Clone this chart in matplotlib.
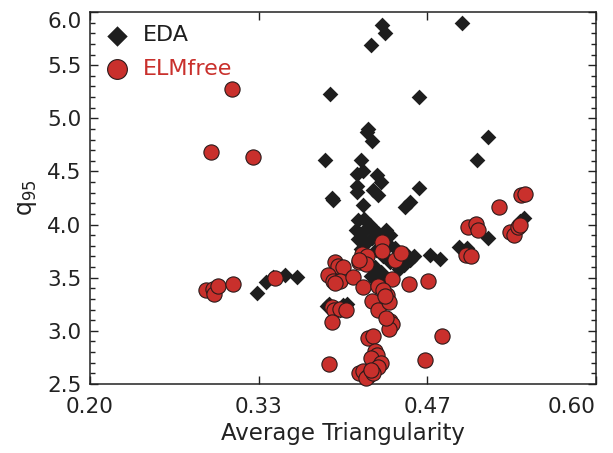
import matplotlib
matplotlib.use("Agg")
import matplotlib.pyplot as plt
from matplotlib.ticker import MultipleLocator

# EDA shots (black diamonds)
eda_tri = [0.431, 0.433, 0.422, 0.494, 0.390, 0.460,
           0.420, 0.419, 0.423, 0.515, 0.506, 0.386, 0.414,
           0.411, 0.416, 0.427, 0.430, 0.411, 0.411, 0.424, 0.428,
           0.391, 0.392, 0.460, 0.416, 0.453, 0.449,
           0.412, 0.417, 0.421, 0.410, 0.416, 0.424, 0.428, 0.434, 0.437,
           0.412, 0.418, 0.423, 0.430, 0.436, 0.441, 0.414, 0.426,
           0.432, 0.437, 0.425, 0.430, 0.422, 0.426, 0.434,
           0.450, 0.453, 0.448, 0.444, 0.456,
           0.469, 0.477, 0.492, 0.498, 0.515, 0.543, 0.540, 0.538,
           0.332, 0.339, 0.345, 0.354, 0.364,
           0.387, 0.389, 0.400, 0.403, 0.398]
eda_q95 = [5.88, 5.80, 5.69, 5.90, 5.23, 5.20,
           4.90, 4.87, 4.79, 4.82, 4.61, 4.61, 4.61,
           4.48, 4.50, 4.47, 4.40, 4.36, 4.31, 4.33, 4.28,
           4.25, 4.23, 4.34, 4.18, 4.21, 4.17,
           4.04, 4.05, 4.00, 3.95, 3.93, 3.96, 3.92, 3.95, 3.90,
           3.86, 3.83, 3.87, 3.85, 3.81, 3.78, 3.77, 3.76,
           3.70, 3.65, 3.60, 3.55, 3.52, 3.47, 3.50,
           3.72, 3.67, 3.62, 3.58, 3.70,
           3.71, 3.68, 3.79, 3.78, 3.87, 4.06, 4.03, 4.00,
           3.36, 3.46, 3.51, 3.53, 3.51,
           3.23, 3.25, 3.24, 3.25, 3.20]

# ELM-free shots (red circles)
elm_tri = [0.312, 0.296, 0.329,
           0.292, 0.297, 0.298, 0.301, 0.313, 0.346,
           0.394, 0.396, 0.400, 0.388, 0.392, 0.398, 0.394, 0.408,
           0.413, 0.415, 0.419, 0.418, 0.413,
           0.431, 0.431, 0.441, 0.446,
           0.416, 0.428, 0.435, 0.439, 0.452, 0.467, 0.432,
           0.423, 0.428, 0.436, 0.433,
           0.391, 0.393, 0.398, 0.402, 0.391,
           0.437, 0.439, 0.436, 0.434,
           0.420, 0.424, 0.478,
           0.425, 0.427, 0.422, 0.430, 0.428, 0.389, 0.465,
           0.413, 0.416, 0.420, 0.418, 0.424, 0.422,
           0.497, 0.501, 0.499, 0.505, 0.507, 0.523, 0.532, 0.535, 0.538,
           0.541, 0.544, 0.540]
elm_q95 = [5.28, 4.68, 4.64,
           3.38, 3.39, 3.35, 3.42, 3.44, 3.50,
           3.65, 3.61, 3.60, 3.53, 3.47, 3.47, 3.45, 3.51,
           3.65, 3.72, 3.70, 3.63, 3.67,
           3.84, 3.75, 3.67, 3.73,
           3.41, 3.42, 3.34, 3.49, 3.44, 3.47, 3.38,
           3.28, 3.20, 3.27, 3.33,
           3.22, 3.20, 3.21, 3.20, 3.08,
           3.09, 3.06, 3.02, 3.12,
           2.93, 2.95, 2.95,
           2.81, 2.77, 2.74, 2.70, 2.66, 2.69, 2.73,
           2.60, 2.62, 2.58, 2.56, 2.60, 2.63,
           3.71, 3.70, 3.98, 4.01, 3.95, 4.17, 3.93, 3.90, 3.98,
           4.28, 4.29, 4.00]

x_ticks = [0.20, 1.0 / 3, 7.0 / 15, 0.60]
x_ticklabels = ["0.20", "0.33", "0.47", "0.60"]
y_ticks = [2.5, 3.0, 3.5, 4.0, 4.5, 5.0, 5.5, 6.0]
y_ticklabels = ["2.5", "3.0", "3.5", "4.0", "4.5", "5.0", "5.5", "6.0"]

plt.rcParams['font.family'] = ['DejaVu Sans']

fig = plt.figure(figsize=(6.13, 4.53), dpi=100)
ax = fig.add_axes([0.1468, 0.1523, 0.8254, 0.8212])

red = "#c9302c"
ax.scatter(eda_tri, eda_q95, marker="D", s=64, color="#1e1e1e",
           linewidths=0, label="EDA", zorder=2, clip_on=False)
ax.scatter(elm_tri, elm_q95, marker="o", s=120, facecolor=red,
           edgecolor="#2a1a1a", linewidths=0.8, label="ELMfree", zorder=3,
           clip_on=False)

ax.set_xlim(0.2, 0.6)
ax.set_ylim(2.5, 6.0)
ax.set_xticks(x_ticks)
ax.set_xticklabels(x_ticklabels)
ax.set_yticks(y_ticks)
ax.set_yticklabels(y_ticklabels)
ax.yaxis.set_minor_locator(MultipleLocator(0.1))
ax.tick_params(which="both", direction="in", top=True, right=True,
               labelsize=15.5, width=1.0, colors="#222222")
ax.tick_params(axis="x", pad=9)
ax.tick_params(axis="y", pad=6)
ax.tick_params(which="major", length=6)
ax.tick_params(which="minor", length=3.5)
for sp in ax.spines.values():
    sp.set_linewidth(1.1)
    sp.set_color("#222222")

# edge labels pulled inside the figure, as in the original
ax.xaxis.get_major_ticks()[-1].label1.set_horizontalalignment("right")
ax.yaxis.get_major_ticks()[-1].label1.set_verticalalignment("top")

ax.set_xlabel("Average Triangularity", fontsize=16.5, labelpad=4,
              color="#222222")
ax.set_ylabel("q$_{95}$", fontsize=17, labelpad=6, color="#222222")

leg = ax.legend(loc="upper left", frameon=False, fontsize=16,
                markerscale=1.3, handletextpad=0.6, borderaxespad=0.2,
                borderpad=0.4, labelspacing=0.6, handlelength=1.2)
leg.get_texts()[0].set_color("#1e1e1e")
leg.get_texts()[1].set_color(red)

fig.savefig("out.png", dpi=100)
